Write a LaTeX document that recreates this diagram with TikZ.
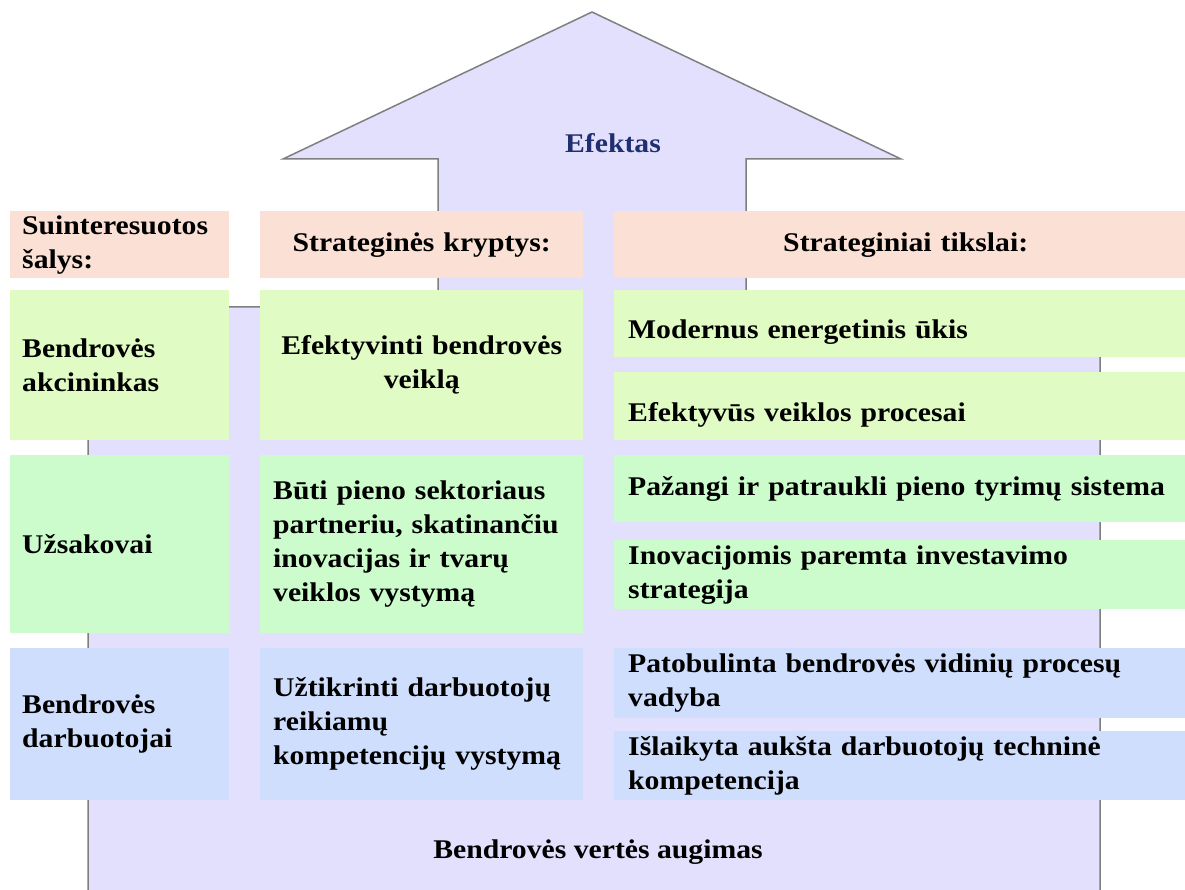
\documentclass[tikz,border=0pt]{standalone}
\usepackage{fontspec}
\setmainfont{Liberation Serif}[FakeStretch=1.1]
\definecolor{peach}{HTML}{FBE1D5}
\definecolor{rowA}{HTML}{E0FCC4}
\definecolor{rowB}{HTML}{CCFCCC}
\definecolor{rowC}{HTML}{CFDEFC}
\definecolor{lav}{HTML}{E2E0FC}
\definecolor{navy}{HTML}{1F2F6F}
\definecolor{edge}{HTML}{7F7F7F}
\tikzset{
  txt/.style={font=\bfseries\fontsize{27}{34}\selectfont},
  cell/.style={txt, draw=none, anchor=north west, inner ysep=0pt},
  c1/.style={cell, inner xsep=12pt, text width=195pt, align=left},
  c2/.style={cell, inner xsep=13pt, text width=297pt, align=left},
  c2c/.style={cell, inner xsep=13pt, text width=297pt, align=center},
  c3/.style={cell, inner xsep=14pt, text width=555pt, align=left},
  c3c/.style={cell, inner xsep=14pt, text width=555pt, align=center},
  arrowshape/.style={fill=lav, draw=edge, line width=1.5pt, line join=miter},
}
\begin{document}
\begin{tikzpicture}[x=1pt,y=-1pt]
\useasboundingbox (0,0) rectangle (1185,890);
\clip (0,0) rectangle (1185,890);
% big arrow / house shape
\draw[arrowshape] (88,905) -- (88,307) -- (438,307) -- (438,159) -- (283,159)
  -- (592,12) -- (901,159) -- (746,159) -- (746,307) -- (1100,307) -- (1100,905);
\node[txt, text=navy] (eff) at (613,143) {Efektas};
\node[txt] (aug) at (598,852) {Bendrovės vertės augimas};
% header row
\node[c1, fill=peach, minimum height=67pt] (h1) at (10,211) {Suinteresuotos\\šalys:};
\node[c2c, fill=peach, minimum height=67pt] (h2) at (260,211) {Strateginės kryptys:};
\node[c3c, fill=peach, minimum height=67pt] (h3) at (614,211) {Strateginiai tikslai:};
% row A
\node[c1, fill=rowA, minimum height=150pt] (a1) at (10,290) {Bendrovės\\akcininkas};
\node[c2c, fill=rowA, minimum height=150pt] (a2) at (260,290) {Efektyvinti bendrovės\\veiklą};
\node[c3, fill=rowA, minimum height=67pt, text height=36pt, text depth=6pt] (a3) at (614,290) {Modernus energetinis ūkis};
\node[c3, fill=rowA, minimum height=68pt, text height=36pt, text depth=6pt] (a4) at (614,372) {Efektyvūs veiklos procesai};
% row B
\node[c1, fill=rowB, minimum height=178pt] (b1) at (10,455) {Užsakovai};
\node[c2, fill=rowB, minimum height=178pt] (b2) at (260,455) {Būti pieno sektoriaus\\partneriu, skatinančiu\\inovacijas ir tvarų\\veiklos vystymą};
\node[c3, fill=rowB, minimum height=67pt] (b3) at (614,455) {Pažangi ir patraukli pieno tyrimų sistema};
\node[c3, fill=rowB, minimum height=69pt] (b4) at (614,540) {Inovacijomis paremta investavimo\\strategija};
% row C
\node[c1, fill=rowC, minimum height=152pt] (d1) at (10,648) {Bendrovės\\darbuotojai};
\node[c2, fill=rowC, minimum height=152pt] (d2) at (260,648) {Užtikrinti darbuotojų\\reikiamų\\kompetencijų vystymą};
\node[c3, fill=rowC, minimum height=70pt] (d3) at (614,648) {Patobulinta bendrovės vidinių procesų\\vadyba};
\node[c3, fill=rowC, minimum height=69pt] (d4) at (614,731) {Išlaikyta aukšta darbuotojų techninė\\kompetencija};
\end{tikzpicture}
\end{document}
